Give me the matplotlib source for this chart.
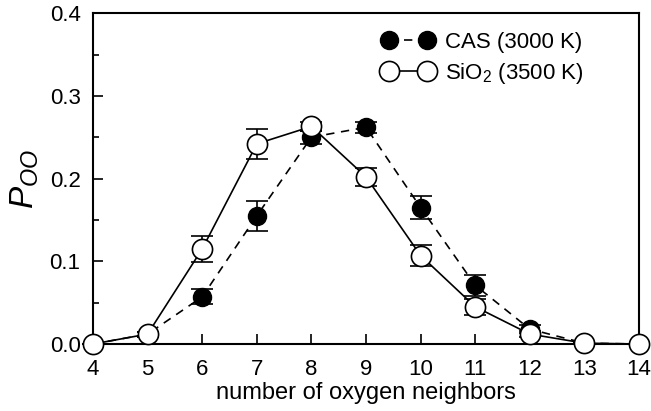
import numpy as np
import matplotlib
matplotlib.use("Agg")
import matplotlib.pyplot as plt

plt.rcParams['font.family'] = ['Liberation Sans', 'DejaVu Sans']
plt.rcParams['mathtext.fontset'] = 'custom'
plt.rcParams['mathtext.rm'] = 'Liberation Sans'
plt.rcParams['mathtext.it'] = 'Liberation Sans:italic'

# oxygen neighbour distribution
n_oxygen = [4, 5, 6, 7, 8, 9, 10, 11, 12, 13, 14]
p_cas = [0.0, 0.012, 0.057, 0.155, 0.250, 0.262, 0.165, 0.071, 0.018, 0.001, 0.0]
err_cas = [0.0, 0.003, 0.009, 0.018, 0.008, 0.007, 0.014, 0.013, 0.005, 0.0, 0.0]
p_sio2 = [0.0, 0.012, 0.115, 0.242, 0.263, 0.202, 0.107, 0.045, 0.012, 0.001, 0.0]
err_sio2 = [0.0, 0.003, 0.016, 0.018, 0.005, 0.011, 0.013, 0.010, 0.004, 0.0, 0.0]

fig = plt.figure(figsize=(6.51, 4.11), dpi=100)
ax = fig.add_axes([0.1429, 0.163, 0.8387, 0.805])

ax.errorbar(n_oxygen, p_cas, yerr=err_cas, fmt='none', ecolor='black',
            elinewidth=1.2, capsize=8, capthick=1.2, zorder=2, clip_on=False)
ax.errorbar(n_oxygen, p_sio2, yerr=err_sio2, fmt='none', ecolor='black',
            elinewidth=1.2, capsize=8, capthick=1.2, zorder=2, clip_on=False)
ax.plot(n_oxygen, p_cas, color='black', ls=(0, (5, 4)), lw=1.2, marker='o',
        ms=13, mfc='black', mec='black', clip_on=False, zorder=3,
        label='CAS (3000 K)')
ax.plot(n_oxygen, p_sio2, color='black', ls='-', lw=1.2, marker='o',
        ms=14.5, mfc='white', mec='black', mew=1.2, clip_on=False, zorder=4,
        label='SiO$_2$ (3500 K)')

ax.set_xlim(4, 14)
ax.set_ylim(0, 0.4)
ax.set_xticks(range(4, 15))
ax.set_yticks([0.0, 0.1, 0.2, 0.3, 0.4])
ax.set_yticks([0.05, 0.15, 0.25, 0.35], minor=True)
ax.yaxis.set_major_formatter(matplotlib.ticker.FormatStrFormatter('%.1f'))
ax.tick_params(axis='x', direction='in', length=7, width=1.2, labelsize=16, pad=11)
ax.tick_params(axis='y', which='major', direction='in', length=7, width=1.2,
               labelsize=16, pad=9)
ax.tick_params(axis='y', which='minor', direction='in', length=4, width=1.2)
for s in ax.spines.values():
    s.set_linewidth(1.5)

ax.set_xlabel('number of oxygen neighbors', fontsize=17, labelpad=1)
ax.set_ylabel('$P_{OO}$', fontsize=24, labelpad=6)

ax.legend(loc='upper right', bbox_to_anchor=(0.914, 0.97), borderaxespad=0,
          frameon=False, fontsize=16, numpoints=2, handlelength=2.3,
          handletextpad=0.5, labelspacing=0.35)

fig.savefig('out.png', dpi=100)
